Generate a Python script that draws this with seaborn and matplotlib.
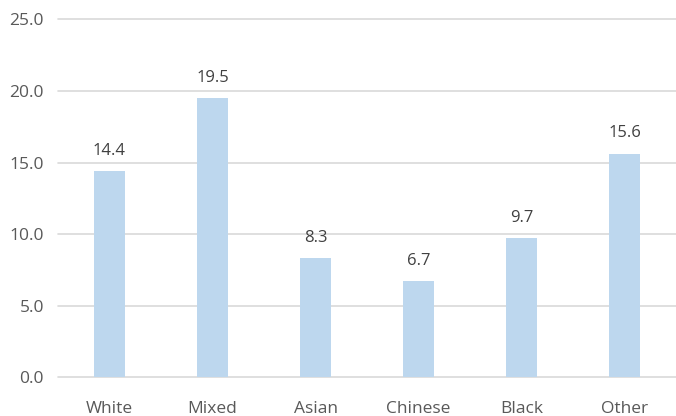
import matplotlib
matplotlib.use("Agg")
import matplotlib.pyplot as plt
import seaborn as sns
import pandas as pd

categories = ["White", "Mixed", "Asian", "Chinese", "Black", "Other"]
values = [14.4, 19.5, 8.3, 6.7, 9.7, 15.6]
y_ticks = [0, 5, 10, 15, 20, 25]

sns.set_theme(style="white")
plt.rcParams["font.family"] = ["Open Sans", "DejaVu Sans"]

df = pd.DataFrame({"group": categories, "value": values})

fig = plt.figure(figsize=(6.76, 4.16), dpi=100)
ax = fig.add_axes([0.0858, 0.093, 0.9142, 0.8606])
sns.barplot(data=df, x="group", y="value", color="#BDD7EE", saturation=1,
            width=0.31, linewidth=0, ax=ax)

ax.set_ylim(0, 25)
ax.set_yticks(y_ticks)
ax.set_yticklabels([f"{t:.1f}" for t in y_ticks])
ax.set_xlim(-0.5, len(categories) - 0.5)
ax.yaxis.grid(True, color="#D9D9D9", lw=1.2)
for gl in ax.get_ygridlines():
    gl.set_clip_on(False)
ax.set_axisbelow(True)
for s in ax.spines.values():
    s.set_visible(False)
ax.tick_params(axis="both", length=0, labelsize=12.5, colors="#595959")
ax.tick_params(axis="x", pad=17)
ax.tick_params(axis="y", pad=10)
ax.set_xlabel("")
ax.set_ylabel("")

for i, v in enumerate(values):
    ax.annotate(f"{v:.1f}", (i, v), xytext=(0, 9), textcoords="offset points",
                ha="center", va="bottom", fontsize=12, color="#404040")

fig.savefig("out.png", dpi=100)
